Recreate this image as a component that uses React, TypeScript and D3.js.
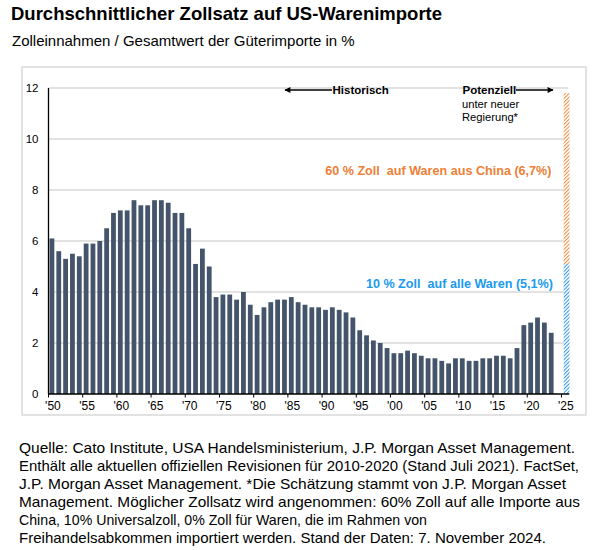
import React from "react";
import * as d3 from "d3";

const years: number[] = d3.range(1950, 2024);
const tariffRate: number[] = [
  6.1, 5.6, 5.3, 5.5, 5.4, 5.9, 5.9, 6.0, 6.5, 7.1,
  7.2, 7.2, 7.6, 7.4, 7.4, 7.6, 7.6, 7.5, 7.1, 7.1,
  6.5, 5.1, 5.7, 5.0, 3.8, 3.9, 3.9, 3.7, 4.0, 3.5,
  3.1, 3.4, 3.6, 3.7, 3.7, 3.8, 3.6, 3.5, 3.4, 3.4,
  3.3, 3.4, 3.3, 3.2, 3.0, 2.5, 2.3, 2.1, 2.0, 1.8,
  1.6, 1.6, 1.7, 1.6, 1.5, 1.4, 1.4, 1.3, 1.2, 1.4,
  1.4, 1.3, 1.3, 1.4, 1.4, 1.5, 1.5, 1.4, 1.8, 2.7,
  2.8, 3.0, 2.8, 2.4,
];
const projectionYear = 2025;
const universalPart = 5.1; // 10 % Zoll auf alle Waren
const chinaPart = 6.7; // 60 % Zoll auf Waren aus China
const yTicks: number[] = [0, 2, 4, 6, 8, 10, 12];
const xTickYears: number[] = d3.range(1950, 2026, 5);

const title = "Durchschnittlicher Zollsatz auf US-Warenimporte";
const subtitle = "Zolleinnahmen / Gesamtwert der Güterimporte in %";
const footnote: string[] = [
  "Quelle: Cato Institute, USA Handelsministerium, J.P. Morgan Asset Management.",
  "Enthält alle aktuellen offiziellen Revisionen für 2010-2020 (Stand Juli 2021). FactSet,",
  "J.P. Morgan Asset Management. *Die Schätzung stammt von J.P. Morgan Asset",
  "Management. Möglicher Zollsatz wird angenommen: 60% Zoll auf alle Importe aus",
  "China, 10% Universalzoll, 0% Zoll für Waren, die im Rahmen von",
  "Freihandelsabkommen importiert werden. Stand der Daten: 7. November 2024.",
];
// rendered line widths (layout)
const footnoteWidths: number[] = [556, 560, 547, 561, 408, 527];

const FONT = "'Liberation Sans', Arial, Helvetica, sans-serif";
const BAR = "#44546A";
const ORANGE = "#F08A3C";
const BLUE = "#2E95E8";
const BLUE_TEXT = "#1A9AEF";
const ORANGE_TEXT = "#EE8038";

export default function App() {
  const W = 598;
  const H = 550;
  const left = 48.5;
  const right = 568.3;
  const top = 88;
  const bottom = 394;

  const allYears = d3.range(1950, projectionYear + 1);
  const x = d3
    .scaleBand<number>()
    .domain(allYears)
    .range([left, right])
    .paddingInner(0.3)
    .paddingOuter(0.15);
  const y = d3.scaleLinear().domain([0, 12]).range([bottom, top]);
  const step = x.step();
  const bw = x.bandwidth();
  const edge = (yr: number) => (x(yr) as number) - step * x.paddingOuter();

  const px = (x(projectionYear) as number) + 1.2;
  const pw = 5.8;

  return (
    <svg
      width={W}
      height={H}
      viewBox={`0 0 ${W} ${H}`}
      style={{ position: "absolute", left: 0, top: 0, background: "#fff" }}
      fontFamily={FONT}
    >
      <defs>
        <pattern id="hatchBlue" width="2.6" height="2.6" patternUnits="userSpaceOnUse" patternTransform="rotate(45)">
          <rect width="2.6" height="2.6" fill="#fff" />
          <line x1="0" y1="0" x2="0" y2="2.6" stroke={BLUE} strokeWidth="2" />
        </pattern>
        <pattern id="hatchOrange" width="2.6" height="2.6" patternUnits="userSpaceOnUse" patternTransform="rotate(45)">
          <rect width="2.6" height="2.6" fill="#fff" />
          <line x1="0" y1="0" x2="0" y2="2.6" stroke={ORANGE} strokeWidth="2" />
        </pattern>
        <marker id="arrowHead" viewBox="0 0 10 10" refX="9" refY="5" markerWidth="7" markerHeight="6" orient="auto-start-reverse" markerUnits="userSpaceOnUse">
          <path d="M0,0 L10,5 L0,10 z" fill="#000" />
        </marker>
      </defs>

      <text x={11} y={20} fontSize={18.5} fontWeight="bold" fill="#000">{title}</text>
      <text x={12} y={46} fontSize={15} fill="#000">{subtitle}</text>

      <rect x={22} y={67} width={564} height={348} fill="none" stroke="#D9D9D9" strokeWidth={1.5} />

      {/* gridlines */}
      {yTicks.filter((t) => t > 0).map((t) => (
        <line key={t} x1={left} x2={right} y1={y(t)} y2={y(t)} stroke="#D9D9D9" strokeWidth={1.5} />
      ))}

      {/* y tick labels */}
      {yTicks.map((t) => (
        <text key={t} x={38.5} y={y(t) + 4} fontSize={11.5} textAnchor="end" fill="#000">{t}</text>
      ))}

      {/* bars */}
      {years.map((yr, i) => (
        <rect key={yr} x={x(yr)} y={y(tariffRate[i])} width={bw} height={bottom - y(tariffRate[i])} fill={BAR} />
      ))}

      {/* projection stacked hatched bar */}
      <rect x={px} y={y(universalPart)} width={pw} height={bottom - y(universalPart)} fill="url(#hatchBlue)" />
      <rect x={px} y={y(universalPart + chinaPart)} width={pw} height={y(universalPart) - y(universalPart + chinaPart)} fill="url(#hatchOrange)" />

      {/* axes */}
      <line x1={left} x2={left} y1={top} y2={bottom} stroke="#000" strokeWidth={1.3} />
      <line x1={left} x2={right + 1} y1={bottom} y2={bottom} stroke="#000" strokeWidth={1.3} />
      {xTickYears.map((yr) => (
        <g key={yr}>
          <line x1={edge(yr)} x2={edge(yr)} y1={bottom} y2={bottom + 3.5} stroke="#000" strokeWidth={1} />
          <text x={(x(yr) as number) + bw / 2 + 1} y={bottom + 16} fontSize={12} textAnchor="middle" fill="#000">
            {"'" + String(yr).slice(2)}
          </text>
        </g>
      ))}

      {/* annotations */}
      <line x1={332} x2={285} y1={90} y2={90} stroke="#000" strokeWidth={1.3} markerEnd="url(#arrowHead)" />
      <text x={332.5} y={94} fontSize={11.5} fontWeight="bold" fill="#000">Historisch</text>
      <text x={462.5} y={94} fontSize={11.5} fontWeight="bold" fill="#000">Potenziell</text>
      <line x1={516} x2={553} y1={90} y2={90} stroke="#000" strokeWidth={1.3} markerEnd="url(#arrowHead)" />
      <text x={462} y={107.5} fontSize={11.2} fill="#000">unter neuer</text>
      <text x={462} y={120.5} fontSize={11.2} fill="#000">Regierung*</text>

      <text x={551.5} y={175} fontSize={12.6} fontWeight="bold" textAnchor="end" fill={ORANGE_TEXT} xmlSpace="preserve">
        60 % Zoll  auf Waren aus China (6,7%)
      </text>
      <text x={553} y={288} fontSize={12.6} fontWeight="bold" textAnchor="end" fill={BLUE_TEXT} xmlSpace="preserve">
        10 % Zoll  auf alle Waren (5,1%)
      </text>

      {/* footnote */}
      {footnote.map((line, i) => (
        <text
          key={i}
          x={19}
          y={452.5 + i * 18.1}
          fontSize={15}
          fill="#000"
          textLength={footnoteWidths[i]}
          lengthAdjust="spacingAndGlyphs"
        >
          {line}
        </text>
      ))}
    </svg>
  );
}
